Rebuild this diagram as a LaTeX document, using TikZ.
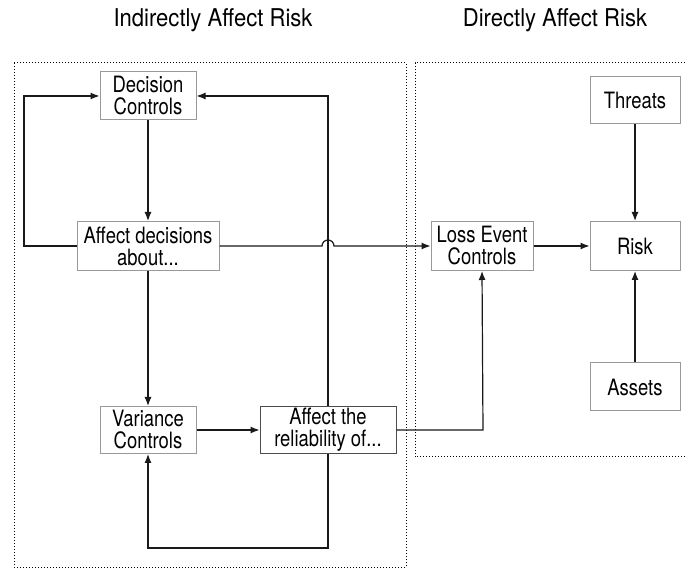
\documentclass[tikz,border=0pt]{standalone}
\usepackage{fontspec}
\setmainfont{TeX Gyre Heros}[FakeStretch=0.82]
\newfontfamily\titlefont{TeX Gyre Heros}[FakeStretch=0.9]
\usetikzlibrary{arrows.meta}
\begin{document}
\begin{tikzpicture}[x=1pt,y=-1pt,
  box/.style={draw=black!40,line width=1pt,fill=white,align=center,inner sep=0pt,
     font=\fontsize{22.5}{22}\selectfont},
  darkbox/.style={box,draw=black!70},
  conn/.style={draw=black!90,line width=1.2pt},
  arr/.style={conn,-{Latex[length=9pt,width=7pt]}},
  region/.style={draw=black,dotted,line width=1pt},
  title/.style={font=\titlefont\fontsize{24.5}{25}\selectfont}]
\useasboundingbox (0,0) rectangle (686,569);
\node[title] (t1) at (213,20) {Indirectly Affect Risk};
\node[title] (t2) at (555,20) {Directly Affect Risk};
\draw[region] (14,63) rectangle (406,567);
\draw[region] (700,63) -- (415,63) -- (415,457) -- (700,457);
\node[box,minimum width=96pt,minimum height=48pt] (dec) at (148,96) {Decision\\Controls};
\node[box,minimum width=142pt,minimum height=49pt] (aff) at (148,246) {Affect decisions\\about...};
\node[box,minimum width=96pt,minimum height=47pt] (var) at (148,430) {Variance\\Controls};
\node[darkbox,minimum width=136pt,minimum height=47pt] (rel) at (328,430) {Affect the\\reliability of...};
\node[box,minimum width=102pt,minimum height=49pt] (loss) at (482,246) {Loss Event\\Controls};
\node[box,minimum width=90pt,minimum height=49pt] (risk) at (635,246) {Risk};
\node[box,minimum width=90pt,minimum height=47pt] (thr) at (635,100) {Threats};
\node[box,minimum width=90pt,minimum height=48pt] (ast) at (635,387) {Assets};
\coordinate (jl) at (322,246);
\coordinate (lloopa) at (24,246);
\coordinate (lloopb) at (24,96);
\coordinate (rloopa) at (328,96);
\coordinate (bloopa) at (328,548);
\coordinate (bloopb) at (148,548);
\coordinate (lossin) at (483,430);
\draw[arr] (dec) -- (aff);
\draw[arr] (aff) -- (var);
\draw[arr] (var) -- (rel);
\draw[arr] (aff.west) -- (lloopa) -- (lloopb) -- (dec.west);
\draw[arr] (rel.north) -- (rloopa) -- (dec.east);
\draw[arr] (rel.south) -- (bloopa) -- (bloopb) -- (var.south);
\draw[arr] (aff.east) -- (jl) arc[start angle=180,end angle=0,radius=6pt] -- (loss.west);
\draw[arr] (rel.east) -- (lossin) -- (loss.south);
\draw[arr] (loss) -- (risk);
\draw[arr] (thr) -- (risk);
\draw[arr] (ast) -- (risk);
\end{tikzpicture}
\end{document}
